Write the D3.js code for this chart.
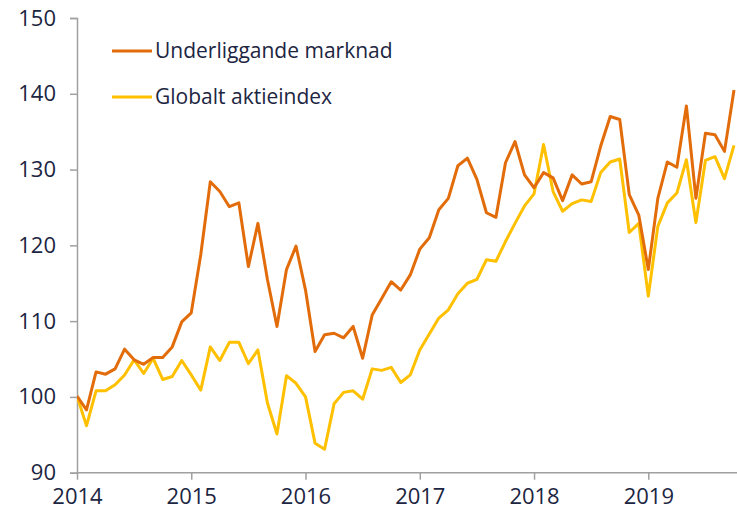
<!DOCTYPE html>
<html>
<head>
<meta charset="utf-8">
<script src="https://cdn.jsdelivr.net/npm/d3@7"></script>
<style>
  body { margin: 0; background: #fff; }
  svg text { font-family: "Open Sans", "Noto Sans", sans-serif; fill: #1c2541; }
</style>
</head>
<body>
<div id="chart"></div>
<script>
// monthly index, jan 2014 = 100
var underliggande = [100.1, 98.3, 103.3, 103.0, 103.7, 106.3, 104.9, 104.3, 105.2, 105.2, 106.6, 109.9,
  111.1, 118.8, 128.4, 127.1, 125.1, 125.6, 117.2, 122.9, 115.5, 109.3, 116.8, 119.9,
  114.1, 106.0, 108.2, 108.4, 107.8, 109.3, 105.1, 110.8, 113.0, 115.2, 114.1, 116.1,
  119.5, 121.0, 124.7, 126.2, 130.5, 131.5, 128.7, 124.3, 123.7, 130.9, 133.7, 129.3,
  127.6, 129.6, 128.9, 125.9, 129.3, 128.1, 128.4, 133.1, 137.0, 136.6, 126.7, 124.0,
  116.8, 126.2, 131.0, 130.3, 138.4, 126.2, 134.8, 134.6, 132.4, 140.5];
var globalt = [100.1, 96.2, 100.8, 100.8, 101.6, 102.9, 104.9, 103.1, 105.1, 102.3, 102.7, 104.8,
  102.9, 100.9, 106.6, 104.8, 107.2, 107.2, 104.4, 106.2, 99.2, 95.1, 102.8, 101.8,
  100.0, 93.9, 93.1, 99.1, 100.6, 100.8, 99.7, 103.7, 103.5, 103.9, 101.9, 102.9,
  106.2, 108.3, 110.4, 111.5, 113.6, 115.0, 115.5, 118.1, 117.9, 120.5, 122.9, 125.2,
  126.8, 133.3, 127.1, 124.5, 125.5, 126.0, 125.8, 129.6, 131.0, 131.4, 121.7, 122.9,
  113.3, 122.5, 125.6, 126.9, 131.3, 123.0, 131.2, 131.7, 128.8, 133.2];
var seriesNames = ["Underliggande marknad", "Globalt aktieindex"];
var seriesColors = ["#e36c0a", "#ffc000"];
var yTicks = [90, 100, 110, 120, 130, 140, 150];
var yearLabels = ["2014", "2015", "2016", "2017", "2018", "2019"];

var W = 737, H = 512;
var margin = {top: 18, right: 0, bottom: 39, left: 77};

var svg = d3.select("#chart").append("svg")
  .attr("width", W)
  .attr("height", H);

var x = d3.scaleLinear()
  .domain([0, 69])
  .range([margin.left, 734]);

var y = d3.scaleLinear()
  .domain([90, 150])
  .range([H - margin.bottom - 0.3, margin.top]);

// y axis
var yAxis = svg.append("g")
  .attr("transform", "translate(" + margin.left + ",0)")
  .call(d3.axisLeft(y).tickValues(yTicks).tickSize(7).tickPadding(14));
yAxis.select(".domain").attr("stroke", "#a0a0a0").attr("stroke-width", 1.5);
yAxis.selectAll(".tick line").attr("stroke", "#a0a0a0").attr("stroke-width", 1.5);
yAxis.selectAll("text").attr("font-size", 22).attr("fill", "#1c2541")
  .attr("font-family", null);

// x axis, one tick per january
var xAxis = svg.append("g")
  .attr("transform", "translate(0," + y(90) + ")")
  .call(d3.axisBottom(x)
    .tickValues(yearLabels.map(function(d, i) { return i * 12; }))
    .tickFormat(function(d) { return yearLabels[d / 12]; })
    .tickSize(7).tickSizeOuter(0).tickPadding(9));
xAxis.select(".domain").attr("d", "M" + margin.left + ",0H" + W)
  .attr("stroke", "#a0a0a0").attr("stroke-width", 1.5);
xAxis.selectAll(".tick line").attr("stroke", "#a0a0a0").attr("stroke-width", 1.5);
xAxis.selectAll("text").attr("font-size", 22).attr("fill", "#1c2541")
  .attr("font-family", null);

var line = d3.line()
  .x(function(d, i) { return x(i); })
  .y(function(d) { return y(d); });

svg.append("clipPath").attr("id", "plotclip")
  .append("rect").attr("x", margin.left).attr("y", 0).attr("width", W - margin.left).attr("height", H);

var plot = svg.append("g").attr("clip-path", "url(#plotclip)");

plot.append("path")
  .datum(globalt)
  .attr("fill", "none")
  .attr("stroke", seriesColors[1])
  .attr("stroke-width", 3)
  .attr("stroke-linejoin", "round")
  .attr("d", line);

plot.append("path")
  .datum(underliggande)
  .attr("fill", "none")
  .attr("stroke", seriesColors[0])
  .attr("stroke-width", 3)
  .attr("stroke-linejoin", "round")
  .attr("d", line);

// legend
var legend = svg.append("g").attr("class", "legend");
seriesNames.forEach(function(name, i) {
  var ly = 51 + i * 46;
  legend.append("line")
    .attr("x1", 112).attr("x2", 152)
    .attr("y1", ly).attr("y2", ly)
    .attr("stroke", seriesColors[i])
    .attr("stroke-width", 3);
  legend.append("text")
    .attr("x", 155)
    .attr("y", ly)
    .attr("dy", "0.35em")
    .attr("font-size", 21)
    .text(name);
});
</script>
</body>
</html>
